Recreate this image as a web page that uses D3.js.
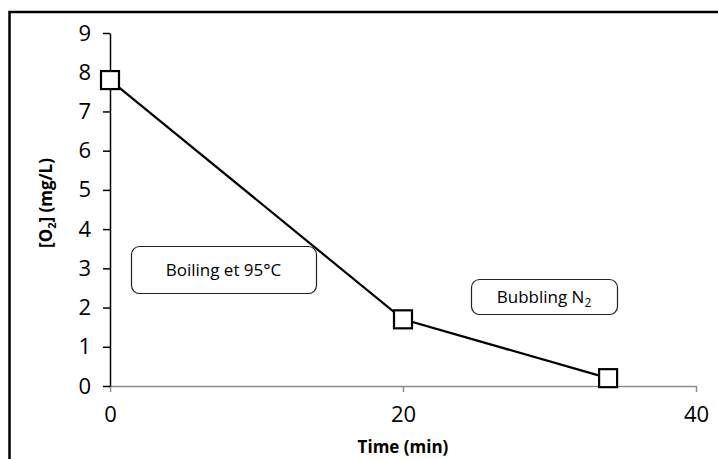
<!DOCTYPE html>
<html>
<head>
<meta charset="utf-8">
<script src="https://cdn.jsdelivr.net/npm/d3@7"></script>
<style>
  body { margin: 0; background: #fff; }
  svg { display: block; }
  svg text { font-family: "Open Sans", sans-serif; }
</style>
</head>
<body>
<div id="chart"></div>
<script>
/** O2 vs time chart *******************/

// data
var times = [0, 20, 34];
var o2 = [7.8, 1.7, 0.2];
var xTicks = [0, 20, 40];
var yTicks = [0, 1, 2, 3, 4, 5, 6, 7, 8, 9];
var notes = [
    { text: "Boiling et 95°C", sub: null },
    { text: "Bubbling N", sub: "2" }
];

var width = 718;
var height = 459;

var svg = d3.select("#chart").append("svg")
    .attr("width", width)
    .attr("height", height);

// outer frame (runs off the right and bottom edges)
svg.append("rect")
    .attr("x", 9.5)
    .attr("y", 12)
    .attr("width", 720)
    .attr("height", 470)
    .style("fill", "none")
    .style("stroke", "black")
    .style("stroke-width", 2.5);

var x = d3.scaleLinear().domain([0, 40]).range([110, 696]);
var y = d3.scaleLinear().domain([0, 9]).range([386, 33]);

// x axis (grey)
var xAxis = svg.append("g")
    .attr("transform", "translate(0," + y(0) + ")")
    .call(d3.axisBottom(x).tickValues(xTicks).tickSize(6).tickSizeOuter(0).tickPadding(14));
xAxis.select(".domain").style("stroke", "#8c8c8c").style("stroke-width", 1.5);
xAxis.selectAll(".tick line").style("stroke", "#8c8c8c").style("stroke-width", 1.5);
xAxis.selectAll(".tick text")
    .style("font-size", "22px")
    .style("fill", "#000");

// y axis (black)
var yAxis = svg.append("g")
    .attr("transform", "translate(" + x(0) + ",0)")
    .call(d3.axisLeft(y).tickValues(yTicks).tickSize(7).tickSizeOuter(0).tickPadding(12));
yAxis.select(".domain").style("stroke", "#000").style("stroke-width", 1.5);
yAxis.selectAll(".tick line").style("stroke", "#000").style("stroke-width", 1.5);
yAxis.selectAll(".tick text")
    .style("font-size", "22px")
    .style("fill", "#000");

// axis titles
svg.append("text")
    .attr("x", 403)
    .attr("y", 453)
    .attr("text-anchor", "middle")
    .style("font-size", "17px")
    .style("font-weight", "bold")
    .text("Time (min)");

var yTitle = svg.append("text")
    .attr("transform", "translate(52,203) rotate(-90)")
    .attr("text-anchor", "middle")
    .style("font-size", "17px")
    .style("font-weight", "bold");
yTitle.append("tspan").text("[O");
yTitle.append("tspan").attr("dy", 4).style("font-size", "11px").text("2");
yTitle.append("tspan").attr("dy", -4).text("] (mg/L)");

// line + markers
var pts = times.map(function(t, i) { return [t, o2[i]]; });

svg.append("path")
    .datum(pts)
    .attr("d", d3.line()
        .x(function(d) { return x(d[0]); })
        .y(function(d) { return y(d[1]); }))
    .style("fill", "none")
    .style("stroke", "black")
    .style("stroke-width", 2.2);

var ms = 18;
svg.selectAll(".marker")
    .data(pts)
  .enter().append("rect")
    .attr("class", "marker")
    .attr("x", function(d) { return x(d[0]) - ms / 2; })
    .attr("y", function(d) { return y(d[1]) - ms / 2; })
    .attr("width", ms)
    .attr("height", ms)
    .style("fill", "white")
    .style("stroke", "black")
    .style("stroke-width", 2.2);

// annotation boxes
var boxes = [
    { x: 131, y: 246, w: 185, h: 47 },
    { x: 471, y: 279, w: 146, h: 35 }
];

boxes.forEach(function(b, i) {
    svg.append("rect")
        .attr("x", b.x + 0.5)
        .attr("y", b.y + 0.5)
        .attr("width", b.w)
        .attr("height", b.h)
        .attr("rx", 8)
        .style("fill", "white")
        .style("stroke", "#222")
        .style("stroke-width", 1.2);

    var t = svg.append("text")
        .attr("x", b.x + b.w / 2)
        .attr("y", b.y + b.h / 2 + 6)
        .attr("text-anchor", "middle")
        .style("font-size", "17px");
    t.append("tspan").text(notes[i].text);
    if (notes[i].sub) {
        t.append("tspan").attr("dy", 4).style("font-size", "12px").text(notes[i].sub);
    }
});
</script>
</body>
</html>
